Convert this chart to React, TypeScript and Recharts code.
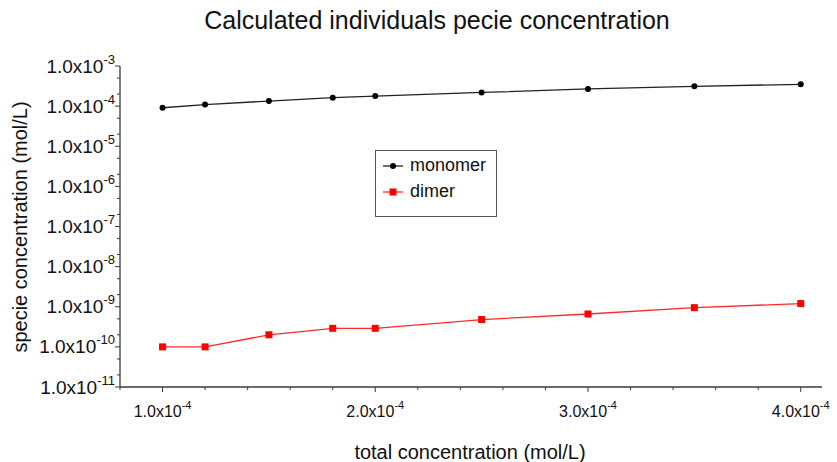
import React from 'react';
import { LineChart, Line, XAxis, YAxis } from 'recharts';

// total concentration (mol/L) on the x axis
const totalConc = [1.0e-4, 1.2e-4, 1.5e-4, 1.8e-4, 2.0e-4, 2.5e-4, 3.0e-4, 3.5e-4, 4.0e-4];
// calculated species concentrations (mol/L)
const monomer = [0.91e-4, 1.09e-4, 1.34e-4, 1.62e-4, 1.78e-4, 2.19e-4, 2.68e-4, 3.11e-4, 3.5e-4];
const dimer = [1.0e-10, 1.0e-10, 2.0e-10, 2.9e-10, 2.9e-10, 4.8e-10, 6.6e-10, 9.5e-10, 1.2e-9];

const xTicks = [
  0.8e-4, 1.0e-4, 1.2e-4, 1.4e-4, 1.6e-4, 1.8e-4, 2.0e-4, 2.2e-4, 2.4e-4, 2.6e-4, 2.8e-4,
  3.0e-4, 3.2e-4, 3.4e-4, 3.6e-4, 3.8e-4, 4.0e-4,
];
const xMajor = [1.0e-4, 2.0e-4, 3.0e-4, 4.0e-4];
const xLabels = ['1.0', '2.0', '3.0', '4.0'];

const yTicks = [
  1e-11, 2e-11, 5e-11, 1e-10, 2e-10, 5e-10, 1e-9, 2e-9, 5e-9, 1e-8, 2e-8, 5e-8, 1e-7, 2e-7, 5e-7,
  1e-6, 2e-6, 5e-6, 1e-5, 2e-5, 5e-5, 1e-4, 2e-4, 5e-4, 1e-3,
];
const yMajor = [1e-11, 1e-10, 1e-9, 1e-8, 1e-7, 1e-6, 1e-5, 1e-4, 1e-3];
const yExponents = ['-11', '-10', '-9', '-8', '-7', '-6', '-5', '-4', '-3'];

const data = totalConc.map((t, i) => ({ total: t, monomer: monomer[i], dimer: dimer[i] }));

const FONT = '"Liberation Sans", Arial, Helvetica, sans-serif';
const AXIS = '#3a3a3a';

const near = (a: number, b: number) => Math.abs(a - b) <= Math.abs(b) * 1e-6;

function XTick({ x, y, payload }: any) {
  const idx = xMajor.findIndex((m) => near(payload.value, m));
  const major = idx >= 0;
  return (
    <g>
      <line x1={x} x2={x} y1={y} y2={y + (major ? 5 : 3)} stroke={AXIS} strokeWidth={1} />
      {major && (
        <text x={x} y={y + 30} textAnchor="middle" fontSize={16} fontFamily={FONT} fill="#111">
          {xLabels[idx]}x10
          <tspan dy={-8} fontSize={11}>-4</tspan>
        </text>
      )}
    </g>
  );
}

function YTick({ x, y, payload }: any) {
  const idx = yMajor.findIndex((m) => near(payload.value, m));
  const major = idx >= 0;
  return (
    <g>
      <line x1={x - (major ? 5 : 3)} x2={x} y1={y} y2={y} stroke={AXIS} strokeWidth={1} />
      {major && (
        <text x={x - 5} y={y + 6.5} textAnchor="end" fontSize={19} fontFamily={FONT} fill="#111">
          1.0x10
          <tspan dy={-9} fontSize={13}>{yExponents[idx]}</tspan>
        </text>
      )}
    </g>
  );
}

function SquareDot({ cx, cy }: any) {
  if (cx == null || cy == null) return null;
  return <rect x={cx - 3.5} y={cy - 3.5} width={7} height={7} fill="#ff0000" />;
}

export default function App() {
  return (
    <div style={{ position: 'absolute', left: 0, top: 0, width: 837, height: 462, background: '#fff', fontFamily: FONT }}>
      <LineChart width={837} height={462} data={data} margin={{ top: 66, right: 15, left: 0, bottom: 0 }}>
        <XAxis
          dataKey="total"
          type="number"
          scale="linear"
          domain={[0.8e-4, 4.1e-4]}
          allowDataOverflow
          ticks={xTicks}
          interval={0}
          tick={<XTick />}
          tickLine={false}
          tickSize={0}
          tickMargin={0}
          height={75}
          stroke={AXIS}
          strokeWidth={1.3}
        />
        <YAxis
          type="number"
          scale="log"
          domain={[1e-11, 1e-3]}
          allowDataOverflow
          ticks={yTicks}
          interval={0}
          tick={<YTick />}
          tickLine={false}
          tickSize={0}
          tickMargin={0}
          width={120}
          stroke={AXIS}
          strokeWidth={1.3}
        />
        <Line
          dataKey="monomer"
          stroke="#222"
          strokeWidth={1.3}
          dot={{ r: 3, fill: '#000', stroke: '#000', strokeWidth: 0 }}
          isAnimationActive={false}
        />
        <Line
          dataKey="dimer"
          stroke="#ff2a2a"
          strokeWidth={1.3}
          dot={<SquareDot />}
          isAnimationActive={false}
        />
      </LineChart>

      <div style={{ position: 'absolute', left: 0, top: 6, width: 874, textAlign: 'center', fontSize: 25, color: '#111' }}>
        Calculated individuals pecie concentration
      </div>

      <div
        style={{
          position: 'absolute',
          left: 20,
          top: 227,
          transform: 'translate(-50%, -50%) rotate(-90deg)',
          whiteSpace: 'nowrap',
          fontSize: 20,
          color: '#111',
        }}
      >
        specie concentration (mol/L)
      </div>

      <div
        style={{
          position: 'absolute',
          left: 470,
          top: 452,
          transform: 'translate(-50%, -50%)',
          whiteSpace: 'nowrap',
          fontSize: 20,
          color: '#111',
        }}
      >
        total concentration (mol/L)
      </div>

      <div
        style={{
          position: 'absolute',
          left: 375,
          top: 150,
          width: 120,
          height: 65,
          border: '1px solid #555',
          fontSize: 18,
          color: '#111',
        }}
      >
        <div style={{ position: 'absolute', left: 6, top: 4, display: 'flex', alignItems: 'center' }}>
          <svg width={22} height={10}>
            <line x1={1} x2={21} y1={5} y2={5} stroke="#222" strokeWidth={1.3} />
            <circle cx={11} cy={5} r={3} fill="#000" />
          </svg>
          <span style={{ marginLeft: 6 }}>monomer</span>
        </div>
        <div style={{ position: 'absolute', left: 6, top: 30, display: 'flex', alignItems: 'center' }}>
          <svg width={22} height={10}>
            <line x1={1} x2={21} y1={5} y2={5} stroke="#ff2a2a" strokeWidth={1.3} />
            <rect x={7.5} y={1.5} width={7} height={7} fill="#ff0000" />
          </svg>
          <span style={{ marginLeft: 6 }}>dimer</span>
        </div>
      </div>
    </div>
  );
}
